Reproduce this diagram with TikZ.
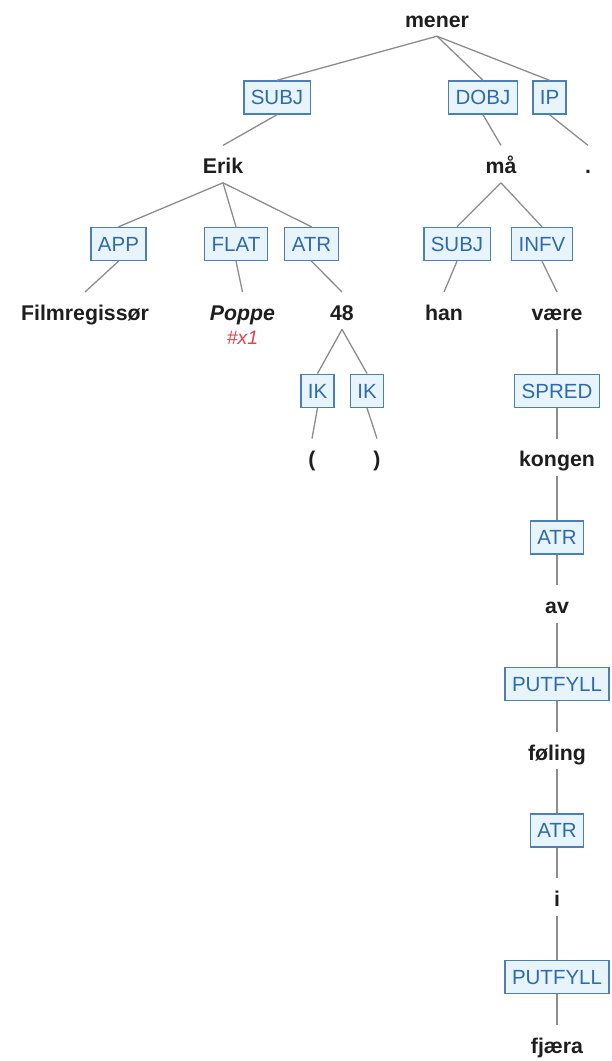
\documentclass[tikz,border=0pt]{standalone}
\usepackage{fontspec}
\setmainfont{Liberation Sans}
\definecolor{edge}{HTML}{8C8C8C}
\definecolor{relborder}{HTML}{4A80B6}
\definecolor{relfill}{HTML}{E8F4FC}
\definecolor{reltext}{HTML}{2E6BAA}
\definecolor{wordtext}{HTML}{1E1E1E}
\definecolor{tagred}{HTML}{E8404A}
\tikzset{
  word/.style={anchor=base, text=wordtext, font=\fontsize{21.3}{24}\selectfont\bfseries,
    text height=19pt, text depth=0pt, inner ysep=9pt, inner xsep=2pt},
  rel/.style={draw=relborder, fill=relfill, line width=1.4pt, text=reltext,
    font=\fontsize{20.5}{24}\selectfont, text height=14.7pt, text depth=0pt,
    minimum height=33pt, inner xsep=7pt, inner ysep=0pt},
  link/.style={draw=edge, line width=1.3pt},
}
\begin{document}
\begin{tikzpicture}[x=1pt, y=-1pt]
\useasboundingbox (0,0) rectangle (611,1061);
% word baselines (W) and relation box centres (B), one pair per tree level
\def\Wa{27}\def\Wb{173.6}\def\Wc{320.2}\def\Wd{466.8}
\def\We{613.4}\def\Wf{760}\def\Wg{906.6}\def\Wh{1053.2}
\def\Ba{97.5}\def\Bb{244}\def\Bc{390.7}\def\Bd{537.3}
\def\Be{684}\def\Bf{830.5}\def\Bg{977}

% words
\node[word] (mener) at (437,\Wa) {mener};
\node[word] (erik) at (223,\Wb) {Erik};
\node[word] (maa) at (501,\Wb) {må};
\node[word] (punct) at (588,\Wb) {.};
\node[word] (film) at (85,\Wc) {Filmregissør};
\node[word, font=\fontsize{21.3}{24}\selectfont\bfseries\itshape] (poppe) at (242.5,\Wc) {Poppe};
\node[anchor=base, text=tagred, font=\fontsize{19.5}{22}\selectfont\itshape, inner sep=0pt] (x1) at (242.5,344) {\#x1};
\node[word] (n48) at (342,\Wc) {48};
\node[word] (han) at (444,\Wc) {han};
\node[word] (vaere) at (557,\Wc) {være};
\node[word] (lpar) at (312,\Wd) {(};
\node[word] (rpar) at (377,\Wd) {)};
\node[word] (kongen) at (557,\Wd) {kongen};
\node[word] (av) at (557,\We) {av};
\node[word] (foling) at (557,\Wf) {føling};
\node[word] (i) at (557,\Wg) {i};
\node[word] (fjaera) at (557,\Wh) {fjæra};

% relation labels
\node[rel] (rsubj) at (277,\Ba) {SUBJ};
\node[rel] (rdobj) at (483,\Ba) {DOBJ};
\node[rel] (rip) at (549.5,\Ba) {IP};
\node[rel] (rapp) at (118.5,\Bb) {APP};
\node[rel] (rflat) at (236,\Bb) {FLAT};
\node[rel] (ratr) at (311.5,\Bb) {ATR};
\node[rel] (rsubjb) at (457,\Bb) {SUBJ};
\node[rel] (rinfv) at (542,\Bb) {INFV};
\node[rel] (rika) at (317.5,\Bc) {IK};
\node[rel] (rikb) at (367,\Bc) {IK};
\node[rel] (rspred) at (557,\Bc) {SPRED};
\node[rel] (ratrb) at (557,\Bd) {ATR};
\node[rel] (rputa) at (557,\Be) {PUTFYLL};
\node[rel] (ratrc) at (557,\Bf) {ATR};
\node[rel] (rputb) at (557,\Bg) {PUTFYLL};

% head -> relation -> dependent
\path[link] (mener.south) -- (rsubj.north) (rsubj.south) -- (erik.north);
\path[link] (mener.south) -- (rdobj.north) (rdobj.south) -- (maa.north);
\path[link] (mener.south) -- (rip.north) (rip.south) -- (punct.north);
\path[link] (erik.south) -- (rapp.north) (rapp.south) -- (film.north);
\path[link] (erik.south) -- (rflat.north) (rflat.south) -- (poppe.north);
\path[link] (erik.south) -- (ratr.north) (ratr.south) -- (n48.north);
\path[link] (n48.south) -- (rika.north) (rika.south) -- (lpar.north);
\path[link] (n48.south) -- (rikb.north) (rikb.south) -- (rpar.north);
\path[link] (maa.south) -- (rsubjb.north) (rsubjb.south) -- (han.north);
\path[link] (maa.south) -- (rinfv.north) (rinfv.south) -- (vaere.north);
\path[link] (vaere.south) -- (rspred.north) (rspred.south) -- (kongen.north);
\path[link] (kongen.south) -- (ratrb.north) (ratrb.south) -- (av.north);
\path[link] (av.south) -- (rputa.north) (rputa.south) -- (foling.north);
\path[link] (foling.south) -- (ratrc.north) (ratrc.south) -- (i.north);
\path[link] (i.south) -- (rputb.north) (rputb.south) -- (fjaera.north);
\end{tikzpicture}
\end{document}
